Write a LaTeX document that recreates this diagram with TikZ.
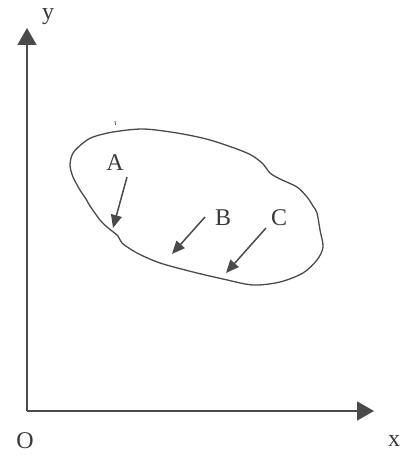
\documentclass[tikz,border=0pt]{standalone}
\usepackage{fontspec}
\setmainfont{Liberation Serif}
\usetikzlibrary{arrows.meta}
\definecolor{ink}{HTML}{4a4a4a}
\definecolor{txt}{HTML}{3a3a3a}
\tikzset{
  axis/.style={draw=ink, line width=1.5pt, -{Triangle[length=17pt,width=19pt]}},
  force/.style={draw=ink, line width=1.5pt, -{Triangle[length=13pt,width=11pt]}},
  lbl/.style={text=txt, font=\fontsize{24}{27}\selectfont, inner sep=0pt},
  blob/.style={draw=ink, line width=1.3pt}
}
\begin{document}
\begin{tikzpicture}[x=1pt,y=-1pt]
\useasboundingbox (0,0) rectangle (405,457);
\coordinate (O) at (27,411);
\coordinate (ytip) at (27,28);
\coordinate (xtip) at (374,411);
\draw[axis] (O) -- (ytip);
\draw[axis] (O) -- (xtip);
\node[lbl, anchor=base] (ylab) at (48,20) {y};
\node[lbl] (olab) at (25,441) {O};
\node[lbl] (xlab) at (394,441) {x};
% region
\draw[blob] plot[smooth cycle, tension=0.5] coordinates {
 (93,137) (113,132) (143,129) (177,133) (210,140) (247,153) (262,163) (270,173)
 (280,179) (297,187) (307,197) (313,206) (317,213) (320,230) (323,247) (317,260)
 (303,273) (280,282) (253,285) (223,279) (193,272) (160,263) (137,253)
 (122,243) (118,236) (107,227) (100,220) (90,206) (86,199) (80,190) (73,177) (70,165)
 (73,153) (83,143)};
\draw[ink, line width=0.8pt] (115,121) -- (115.5,125);
% forces
\node[lbl] (A) at (115,163) {A};
\node[lbl] (B) at (223,218) {B};
\node[lbl] (C) at (279,218) {C};
\coordinate (a0) at (127,177);
\coordinate (a1) at (113,228);
\coordinate (b0) at (205,217);
\coordinate (b1) at (172,254);
\coordinate (c0) at (266,228);
\coordinate (c1) at (226,273);
\draw[force] (a0) -- (a1);
\draw[force] (b0) -- (b1);
\draw[force] (c0) -- (c1);
\end{tikzpicture}
\end{document}
